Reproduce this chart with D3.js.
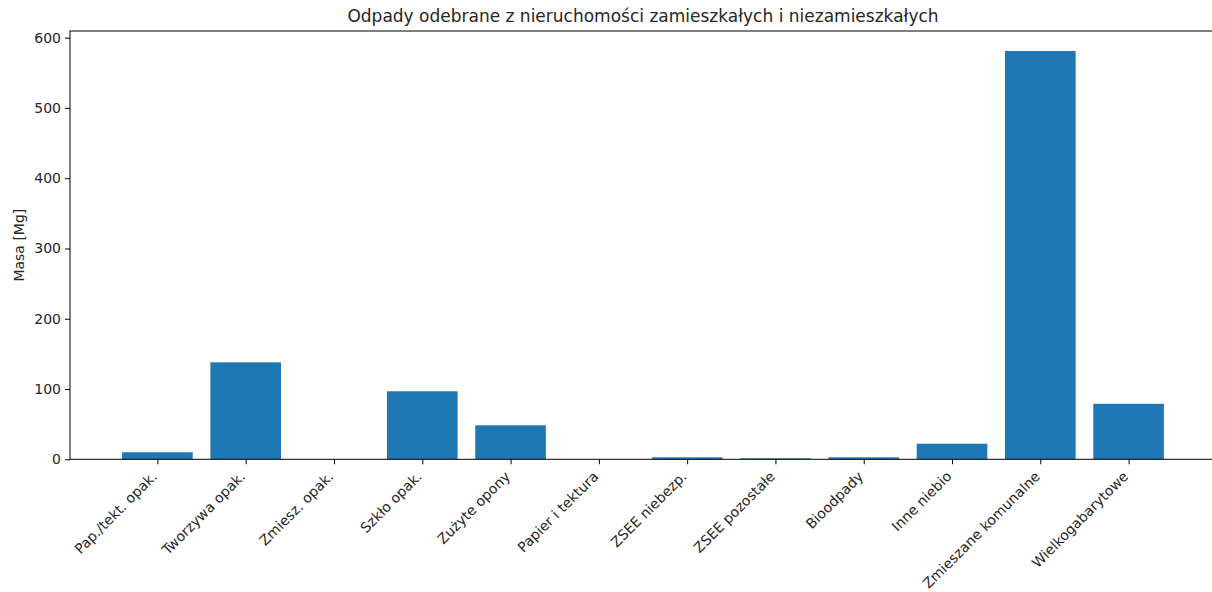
<!doctype html>
<html>
<head>
    <meta charset="UTF-8">
    <title>Odpady</title>
    <script src="https://d3js.org/d3.v7.min.js"></script>
    <style>
        body { margin: 0; background: #fff; }
        text { font-family: "DejaVu Sans", sans-serif; fill: #262626; }
    </style>
</head>
<body>
    <svg width="1212" height="592"></svg>
    <script>
        var categories = ["Pap./tekt. opak.", "Tworzywa opak.", "Zmiesz. opak.", "Szkło opak.", "Zużyte opony",
            "Papier i tektura", "ZSEE niebezp.", "ZSEE pozostałe", "Bioodpady", "Inne niebio",
            "Zmieszane komunalne", "Wielkogabarytowe"];
        var masses = [10, 138, 0, 96.8, 48.4, 0, 2.8, 1.4, 2.8, 22.2, 581, 79];
        var yTicks = [0, 100, 200, 300, 400, 500, 600];

        var mLeft = 70, mRight = 1216, mTop = 31, mBottom = 459.3;
        var svg = d3.select("svg");

        // bar positions like matplotlib: index, width .8, 5% margin
        var x = d3.scaleLinear()
            .domain([-0.99, categories.length - 1 + 0.99])
            .range([mLeft, mRight]);
        var y = d3.scaleLinear()
            .domain([0, 609.5])
            .range([mBottom, mTop]);

        svg.selectAll("rect.bar")
            .data(masses)
            .enter()
            .append("rect")
            .attr("class", "bar")
            .attr("x", function (d, i) { return x(i - 0.4); })
            .attr("width", function (d, i) { return x(i + 0.4) - x(i - 0.4); })
            .attr("y", function (d) { return y(d); })
            .attr("height", function (d) { return y(0) - y(d); })
            .attr("fill", "#1f77b4");

        // y axis
        var yAxis = svg.append("g")
            .attr("transform", "translate(" + mLeft + ",0)")
            .call(d3.axisLeft(y).tickValues(yTicks).tickSize(5).tickPadding(4).tickSizeOuter(0));
        yAxis.select(".domain").remove();
        yAxis.selectAll("text").attr("font-size", 14).style("font-family", "DejaVu Sans").style("fill", "#262626");
        yAxis.selectAll("line").attr("stroke", "#000");

        // x axis
        var xAxis = svg.append("g")
            .attr("transform", "translate(0," + mBottom + ")")
            .call(d3.axisBottom(x).tickValues(d3.range(categories.length)).tickSize(5).tickSizeOuter(0)
                .tickFormat(function (i) { return categories[i]; }));
        xAxis.select(".domain").remove();
        xAxis.selectAll("line").attr("stroke", "#000");
        xAxis.selectAll("text")
            .attr("font-size", 14)
            .style("font-family", "DejaVu Sans")
            .style("fill", "#262626")
            .attr("text-anchor", "end")
            .attr("y", 0)
            .attr("dy", 0)
            .attr("transform", "translate(0,18) rotate(-45)");

        // spines
        svg.append("rect")
            .attr("x", mLeft)
            .attr("y", mTop)
            .attr("width", mRight - mLeft)
            .attr("height", mBottom - mTop)
            .attr("fill", "none")
            .attr("stroke", "#000")
            .attr("stroke-width", 1);

        svg.append("text")
            .attr("x", (mLeft + mRight) / 2)
            .attr("y", 22)
            .attr("text-anchor", "middle")
            .attr("font-size", 17)
            .text("Odpady odebrane z nieruchomości zamieszkałych i niezamieszkałych");

        svg.append("text")
            .attr("transform", "translate(24," + (mTop + mBottom) / 2 + ") rotate(-90)")
            .attr("text-anchor", "middle")
            .attr("font-size", 14)
            .text("Masa [Mg]");
    </script>
</body>
</html>
